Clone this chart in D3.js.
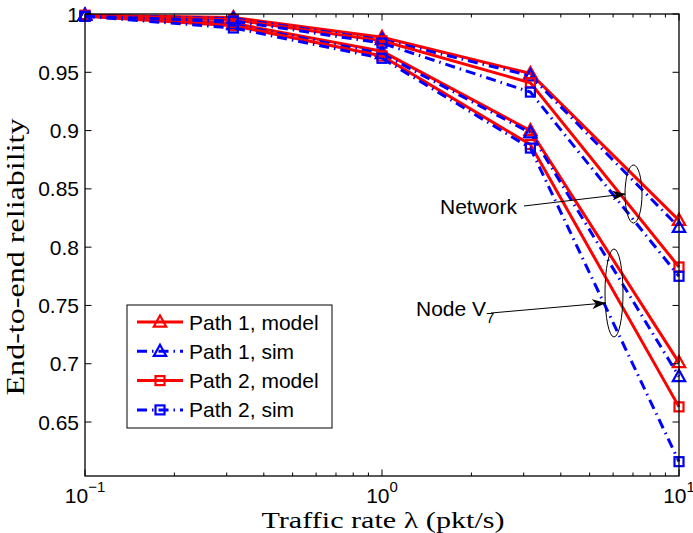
<!DOCTYPE html>
<html>
<head>
<meta charset="utf-8">
<script src="https://cdn.jsdelivr.net/npm/d3@7"></script>
<style>
  body { margin: 0; background: #fff; }
  svg { display: block; }
</style>
</head>
<body>
<svg id="chart" width="693" height="533"></svg>
<script>
// Traffic rates (pkt/s)
const rates = [0.1, 0.316, 1, 3.16, 10];

// Reliability over the whole network
const netPath1Model = [0.999, 0.997, 0.980, 0.949, 0.823];
const netPath1Sim   = [0.999, 0.996, 0.978, 0.947, 0.817];
const netPath2Model = [0.999, 0.995, 0.977, 0.941, 0.783];
const netPath2Sim   = [0.998, 0.994, 0.975, 0.933, 0.775];

// Reliability at node V7
const v7Path1Model = [0.999, 0.992, 0.968, 0.900, 0.701];
const v7Path1Sim   = [0.999, 0.991, 0.966, 0.898, 0.689];
const v7Path2Model = [0.998, 0.990, 0.964, 0.888, 0.663];
const v7Path2Sim   = [0.998, 0.988, 0.962, 0.885, 0.616];

const yTicks = [0.65, 0.7, 0.75, 0.8, 0.85, 0.9, 0.95, 1];
const yTickLabels = ["0.65", "0.7", "0.75", "0.8", "0.85", "0.9", "0.95", "1"];
const xTickExponents = [-1, 0, 1];
const legendLabels = ["Path 1, model", "Path 1, sim", "Path 2, model", "Path 2, sim"];

// ---- layout ----
const plot = { left: 85, right: 679, top: 14, bottom: 476 };
const Y_MIN = 0.6037;

const svg = d3.select("#chart");
const x = d3.scaleLog().domain([0.1, 10]).range([plot.left, plot.right]);
const y = d3.scaleLinear().domain([Y_MIN, 1]).range([plot.bottom, plot.top]);

const RED = "#ff0000", BLUE = "#0000ff";
const DASHDOT = "10,5,1.5,5";
const styles = [
  { color: RED,  dash: null,    marker: "tri" },
  { color: BLUE, dash: DASHDOT, marker: "tri" },
  { color: RED,  dash: null,    marker: "sq"  },
  { color: BLUE, dash: DASHDOT, marker: "sq"  }
];

const series = [
  { style: 0, values: netPath1Model }, { style: 0, values: v7Path1Model },
  { style: 1, values: netPath1Sim },   { style: 1, values: v7Path1Sim },
  { style: 2, values: netPath2Model }, { style: 2, values: v7Path2Model },
  { style: 3, values: netPath2Sim },   { style: 3, values: v7Path2Sim }
];

// ---- inward ticks on all four sides ----
const minorX = [];
[0.1, 1].forEach(dec => { for (let k = 2; k <= 9; k++) minorX.push(dec * k); });
const majorX = xTickExponents.map(e => Math.pow(10, e));

const tickG = svg.append("g").attr("stroke", "#000").attr("stroke-width", 1);
function drawXTicks(vals, len) {
  vals.forEach(v => {
    const px = x(v);
    tickG.append("line").attr("x1", px).attr("x2", px).attr("y1", plot.bottom).attr("y2", plot.bottom - len);
    tickG.append("line").attr("x1", px).attr("x2", px).attr("y1", plot.top).attr("y2", plot.top + len);
  });
}
drawXTicks(minorX, 3.5);
drawXTicks(majorX, 6.5);
yTicks.forEach(v => {
  const py = y(v);
  tickG.append("line").attr("x1", plot.left).attr("x2", plot.left + 6.5).attr("y1", py).attr("y2", py);
  tickG.append("line").attr("x1", plot.right).attr("x2", plot.right - 6.5).attr("y1", py).attr("y2", py);
});

// ---- data lines and markers ----
const line = d3.line().x((d, i) => x(rates[i])).y(d => y(d));
const marks = svg.append("g");

function drawMarker(g, kind, cx, cy, color) {
  if (kind === "tri") {
    const s = 6.5;
    g.append("path")
      .attr("d", `M${cx},${cy - s} L${cx + s * 0.95},${cy + s * 0.7} L${cx - s * 0.95},${cy + s * 0.7} Z`)
      .attr("fill", "none").attr("stroke", color).attr("stroke-width", 2.2);
  } else {
    const s = 4.5;
    g.append("rect").attr("x", cx - s).attr("y", cy - s).attr("width", 2 * s).attr("height", 2 * s)
      .attr("fill", "none").attr("stroke", color).attr("stroke-width", 2.2);
  }
}

series.forEach(s => {
  const st = styles[s.style];
  const g = marks.append("g");
  g.append("path").datum(s.values).attr("d", line)
    .attr("fill", "none").attr("stroke", st.color).attr("stroke-width", 3)
    .attr("stroke-dasharray", st.dash);
  s.values.forEach((v, i) => drawMarker(g, st.marker, x(rates[i]), y(v), st.color));
});

// axes box
tickG.raise();
svg.append("rect").attr("x", plot.left).attr("y", plot.top)
  .attr("width", plot.right - plot.left).attr("height", plot.bottom - plot.top)
  .attr("fill", "none").attr("stroke", "#000").attr("stroke-width", 1.3);

// ---- tick labels ----
const sans = "'Liberation Sans', Arial, sans-serif";
const serif = "'Liberation Serif', 'Times New Roman', serif";

yTicks.forEach((v, i) => {
  svg.append("text").attr("x", plot.left - 6).attr("y", y(v)).attr("dy", "0.36em")
    .attr("text-anchor", "end").attr("font-family", sans).attr("font-size", 21)
    .text(yTickLabels[i]);
});

xTickExponents.forEach(e => {
  const t = svg.append("text").attr("x", x(Math.pow(10, e))).attr("y", 502.5)
    .attr("text-anchor", "middle").attr("font-family", sans).attr("font-size", 21);
  t.append("tspan").text("10");
  t.append("tspan").attr("dy", -11).attr("font-size", 15).text(e < 0 ? "\u2212" + (-e) : String(e));
});

// ---- axis titles ----
svg.append("text").attr("x", 383).attr("y", 527.5).attr("text-anchor", "middle")
  .attr("font-family", serif).attr("font-size", 24)
  .attr("textLength", 243).attr("lengthAdjust", "spacingAndGlyphs")
  .text("Traffic rate \u03bb (pkt/s)");

svg.append("text").attr("transform", "translate(24,257) rotate(-90)").attr("text-anchor", "middle")
  .attr("font-family", serif).attr("font-size", 26)
  .attr("textLength", 277).attr("lengthAdjust", "spacingAndGlyphs")
  .text("End-to-end reliability");

// ---- annotations ----
svg.append("defs").append("marker").attr("id", "arrowHead").attr("viewBox", "0 0 14 10")
  .attr("refX", 13).attr("refY", 5).attr("markerWidth", 14).attr("markerHeight", 10)
  .attr("markerUnits", "userSpaceOnUse").attr("orient", "auto")
  .append("path").attr("d", "M0,0 L14,5 L0,10 L4,5 Z").attr("fill", "#000");

const ann = svg.append("g");
ann.append("ellipse").attr("cx", 633.5).attr("cy", 194).attr("rx", 8.5).attr("ry", 29)
  .attr("fill", "none").attr("stroke", "#000").attr("stroke-width", 1);
ann.append("line").attr("x1", 524).attr("y1", 206).attr("x2", 625).attr("y2", 194)
  .attr("stroke", "#000").attr("stroke-width", 1).attr("marker-end", "url(#arrowHead)");
ann.append("text").attr("x", 440).attr("y", 214).attr("font-family", sans).attr("font-size", 21)
  .text("Network");

ann.append("ellipse").attr("cx", 614).attr("cy", 293).attr("rx", 9).attr("ry", 44)
  .attr("fill", "none").attr("stroke", "#000").attr("stroke-width", 1);
ann.append("line").attr("x1", 491).attr("y1", 313).attr("x2", 605).attr("y2", 303)
  .attr("stroke", "#000").attr("stroke-width", 1).attr("marker-end", "url(#arrowHead)");
const nodeLabel = ann.append("text").attr("x", 416).attr("y", 316).attr("font-family", sans).attr("font-size", 21);
nodeLabel.append("tspan").text("Node V");
nodeLabel.append("tspan").attr("dy", 7).attr("font-size", 15).text("7");

// ---- legend ----
const lg = svg.append("g");
lg.append("rect").attr("x", 127).attr("y", 305).attr("width", 205).attr("height", 123)
  .attr("fill", "#fff").attr("stroke", "#000").attr("stroke-width", 1);
legendLabels.forEach((lab, i) => {
  const st = styles[i];
  const cy = 322 + i * 29.3;
  lg.append("line").attr("x1", 137).attr("x2", 183).attr("y1", cy).attr("y2", cy)
    .attr("stroke", st.color).attr("stroke-width", 3).attr("stroke-dasharray", st.dash);
  drawMarker(lg, st.marker, 160, cy, st.color);
  lg.append("text").attr("x", 189).attr("y", cy).attr("dy", "0.36em")
    .attr("font-family", sans).attr("font-size", 21).text(lab);
});
</script>
</body>
</html>
